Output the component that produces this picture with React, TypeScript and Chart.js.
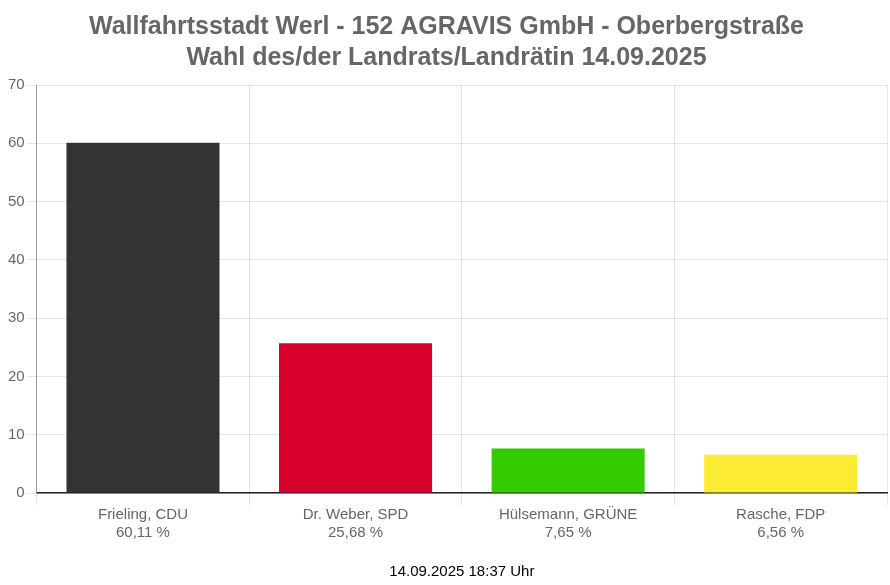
import React, { useEffect, useRef } from "react";
import { Chart, registerables } from "chart.js";

Chart.register(...registerables);

const candidates = ["Frieling, CDU", "Dr. Weber, SPD", "Hülsemann, GRÜNE", "Rasche, FDP"];
const percentLabels = ["60,11 %", "25,68 %", "7,65 %", "6,56 %"];
const shares = [60.11, 25.68, 7.65, 6.56];
const barColors = ["#333333", "#d7002b", "#33cc00", "#fbeb33"];
const titleLines = [
  "Wallfahrtsstadt Werl - 152 AGRAVIS GmbH - Oberbergstraße",
  "Wahl des/der Landrats/Landrätin 14.09.2025",
];
const footerText = "14.09.2025 18:37 Uhr";

const FONT = "'Liberation Sans', Arial, sans-serif";

export default function App() {
  const ref = useRef<HTMLCanvasElement | null>(null);
  useEffect(() => {
    if (!ref.current) return;
    const chart = new Chart(ref.current, {
      type: "bar",
      data: {
        labels: candidates.map((c, i) => [c, percentLabels[i]]),
        datasets: [
          {
            data: shares,
            backgroundColor: barColors,
            borderWidth: 0,
          },
        ],
      },
      options: {
        animation: false,
        responsive: true,
        maintainAspectRatio: false,
        layout: { padding: { left: 6, right: 3, top: 0, bottom: 0 } },
        plugins: {
          legend: { display: false },
          tooltip: { enabled: false },
          title: {
            display: true,
            text: titleLines,
            color: "#666666",
            font: { family: FONT, size: 25, weight: "bold", lineHeight: 1.24 },
            padding: { top: 11.5, bottom: 11.5 },
          },
          subtitle: {
            display: true,
            position: "bottom",
            fullSize: false,
            text: footerText,
            color: "#000000",
            font: { family: FONT, size: 15, lineHeight: 1.2 },
            padding: { top: 20, bottom: 4 },
          },
        },
        scales: {
          x: {
            grid: {
              color: "rgba(0,0,0,0.1)",
              offset: true,
              tickLength: 12,
            },
            border: { color: "#222222", width: 1.5 },
            ticks: {
              color: "#666666",
              font: { family: FONT, size: 15, lineHeight: 1.2 },
              padding: 1,
              maxRotation: 0,
            },
          },
          y: {
            min: 0,
            max: 70,
            grid: {
              color: "rgba(0,0,0,0.1)",
              tickLength: 10,
            },
            border: { color: "#999999", width: 1 },
            ticks: {
              stepSize: 10,
              color: "#666666",
              font: { family: FONT, size: 15 },
              padding: 2,
            },
          },
        },
      },
    });
    return () => chart.destroy();
  }, []);
  return (
    <div style={{ position: "absolute", left: 0, top: 0, width: 890, height: 585, background: "#fff" }}>
      <canvas ref={ref} />
    </div>
  );
}
